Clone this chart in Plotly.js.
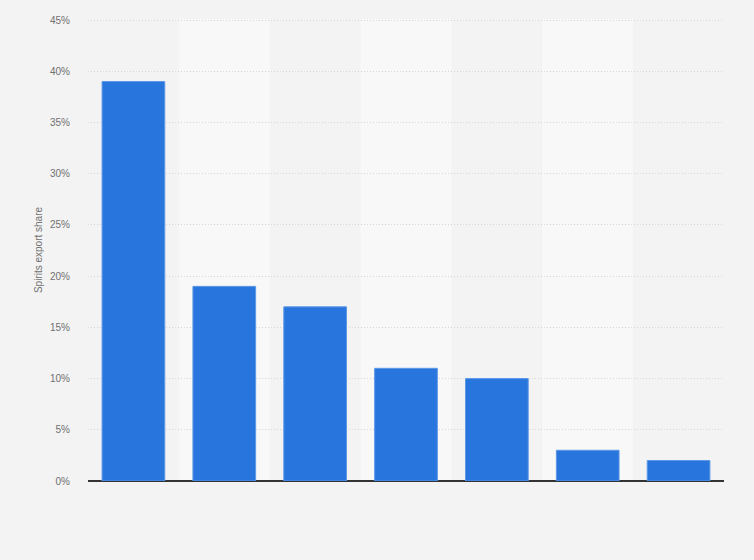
<!DOCTYPE html>
<html>
<head>
<meta charset="utf-8">
<script src="https://cdn.plot.ly/plotly-3.0.1.min.js"></script>
<style>
  html, body { margin: 0; padding: 0; background: #f3f3f3; }
  #chart { width: 754px; height: 560px; }
</style>
</head>
<body>
<div id="chart"></div>
<script>
// Spirits export share by destination (category names not shown in the picture)
const categories = ['A', 'B', 'C', 'D', 'E', 'F', 'G'];
const shareValues = [39, 19, 17, 11, 10, 3, 2];
const yTickValues = [0, 5, 10, 15, 20, 25, 30, 35, 40, 45];
const yTickLabels = ['0%', '5%', '10%', '15%', '20%', '25%', '30%', '35%', '40%', '45%'];

const COLORS = {
  bar: '#2876dd',
  barEdge: '#5d97e6',
  bg: '#f3f3f3',
  band: '#f8f8f8',
  grid: '#d6d6d6',
  axis: '#333333',
  text: '#707070'
};

// light stripes behind every second category
const bandShapes = categories
  .map((c, i) => i)
  .filter(i => i % 2 === 1)
  .map(i => ({
    type: 'rect',
    xref: 'x',
    yref: 'paper',
    x0: i - 0.5,
    x1: i + 0.5,
    y0: 0,
    y1: 1,
    fillcolor: COLORS.band,
    line: { width: 0 },
    layer: 'below'
  }));

const data = [{
  type: 'bar',
  x: categories,
  y: shareValues,
  marker: {
    color: COLORS.bar,
    line: { color: COLORS.barEdge, width: 1 }
  },
  hovertemplate: '%{y}%<extra></extra>'
}];

const layout = {
  width: 754,
  height: 560,
  margin: { l: 88, r: 30, t: 19, b: 79 },
  paper_bgcolor: COLORS.bg,
  plot_bgcolor: COLORS.bg,
  bargap: 0.31,
  showlegend: false,
  font: { family: 'Liberation Sans, Arial, sans-serif', size: 10, color: COLORS.text },
  shapes: bandShapes,
  xaxis: {
    type: 'category',
    range: [-0.5, categories.length - 0.5],
    showticklabels: false,
    showgrid: false,
    zeroline: false,
    showline: false,
    ticks: ''
  },
  yaxis: {
    range: [0, 45.1],
    tickvals: yTickValues,
    ticktext: yTickLabels,
    ticks: 'outside',
    ticklen: 15,
    tickcolor: 'rgba(0,0,0,0)',
    showgrid: true,
    gridcolor: COLORS.grid,
    griddash: '1px,2px',
    gridwidth: 1,
    zeroline: true,
    zerolinecolor: COLORS.axis,
    zerolinewidth: 1.5,
    showline: false,
    tickfont: { size: 10, color: COLORS.text },
    title: {
      text: 'Spirits export share',
      font: { size: 10, color: COLORS.text },
      standoff: 5
    }
  }
};

const config = { displayModeBar: false, responsive: false };

Plotly.newPlot('chart', data, layout, config);
</script>
</body>
</html>
